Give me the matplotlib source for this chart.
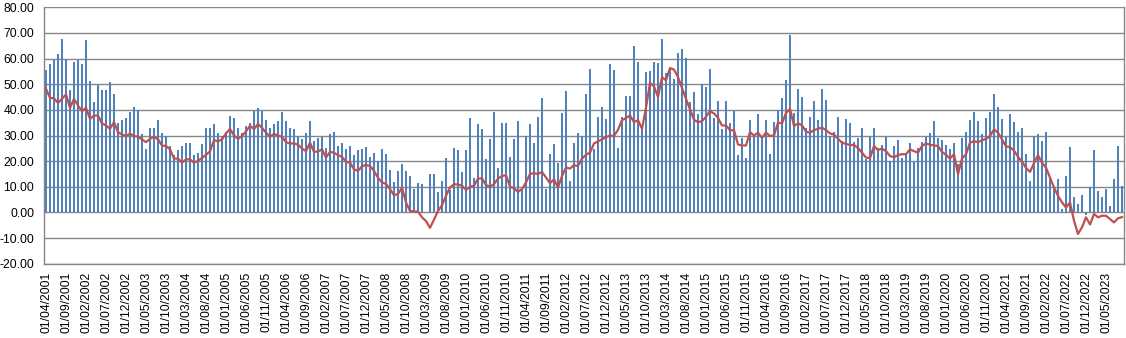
import numpy as np
import pandas as pd
import matplotlib
matplotlib.use("Agg")
import matplotlib.pyplot as plt

plt.rcParams['font.family'] = ['Liberation Sans', 'DejaVu Sans']

# monthly values, first month April 2001
start_month = "2001-04-01"

bar_values = [
    55.7, 58.0, 59.5, 61.9, 67.7, 59.9, 47.6, 58.5, 59.5, 58.0,
    67.3, 51.1, 43.2, 49.8, 47.6, 47.9, 51.0, 46.0, 34.7, 36.2,
    36.8, 39.0, 41.3, 39.9, 30.4, 24.6, 32.8, 33.1, 35.9, 30.8,
    30.0, 25.8, 22.3, 24.2, 25.8, 26.9, 26.9, 22.3, 23.0, 26.5,
    33.1, 32.8, 34.3, 30.8, 30.0, 31.2, 37.8, 37.0, 33.1, 30.8,
    33.9, 34.7, 39.4, 40.9, 39.7, 36.2, 32.8, 34.3, 35.5, 39.0,
    35.5, 32.8, 32.4, 30.0, 28.5, 30.8, 35.5, 27.7, 28.9, 29.3,
    25.0, 30.4, 31.2, 25.8, 26.9, 24.6, 25.8, 22.3, 24.2, 24.6,
    25.4, 21.5, 23.0, 20.2, 24.6, 22.7, 16.4, 11.8, 16.1, 18.8,
    16.1, 14.1, 9.1, 11.4, 11.0, 0.0, 14.9, 14.9, 7.9, 12.2,
    21.1, 8.7, 25.0, 24.2, 15.7, 24.2, 37.0, 13.3, 34.3, 32.4,
    20.7, 28.5, 39.0, 17.2, 34.7, 34.7, 21.5, 28.5, 35.5, 9.0,
    29.8, 34.3, 26.9, 37.4, 44.8, 9.1, 22.7, 26.5, 19.2, 38.6,
    47.5, 12.2, 26.9, 30.8, 29.4, 46.3, 56.1, 24.6, 37.4, 41.3,
    36.6, 58.0, 55.7, 25.0, 37.4, 45.6, 45.6, 65.0, 58.8, 33.0,
    54.9, 55.3, 58.8, 58.4, 67.7, 54.5, 56.4, 52.2, 62.3, 63.8,
    60.2, 43.2, 47.1, 38.2, 50.2, 49.1, 56.1, 37.0, 43.6, 32.4,
    43.6, 34.7, 39.7, 22.3, 28.9, 21.1, 36.2, 29.3, 38.2, 30.0,
    35.9, 22.7, 35.1, 40.1, 44.8, 51.8, 69.3, 38.6, 48.3, 45.2,
    33.1, 37.4, 43.6, 35.9, 48.3, 44.0, 29.3, 31.2, 37.4, 27.7,
    36.6, 34.7, 27.3, 28.9, 33.1, 21.0, 29.6, 33.1, 25.0, 26.1,
    29.6, 19.9, 25.8, 28.1, 21.1, 23.0, 26.9, 19.5, 25.0, 27.3,
    29.3, 30.8, 35.5, 28.9, 28.1, 26.1, 24.6, 26.9, 18.8, 28.9,
    31.2, 36.2, 39.0, 35.5, 30.4, 37.0, 39.0, 46.0, 41.3, 36.6,
    29.6, 38.2, 35.1, 31.2, 32.8, 22.7, 12.2, 29.3, 30.4, 27.7,
    31.2, 13.0, 10.0, 12.9, 1.3, 14.1, 25.4, 6.0, 3.2, 6.7,
    -1.0, 10.0, 24.2, 8.3, 6.0, 9.1, 2.5, 12.9, 25.8, 10.2,
]

line_values = [
    48.2, 44.7, 44.5, 42.7, 44.3, 46.0, 40.8, 44.3, 41.7, 39.5,
    40.8, 36.5, 37.8, 37.8, 34.7, 33.9, 32.6, 35.2, 31.3, 30.4,
    29.8, 30.7, 29.8, 29.5, 28.5, 27.4, 28.7, 29.5, 28.5, 26.1,
    25.9, 24.6, 21.0, 21.0, 19.4, 20.7, 20.7, 19.4, 20.1, 21.2,
    22.5, 23.8, 28.2, 27.7, 28.5, 30.8, 32.6, 30.0, 28.7, 29.8,
    31.6, 33.8, 32.5, 34.5, 33.0, 31.1, 29.5, 30.6, 30.0, 29.5,
    27.4, 26.9, 26.9, 26.4, 24.9, 23.9, 27.2, 23.6, 23.8, 24.6,
    21.4, 23.6, 23.3, 22.3, 21.7, 19.7, 19.4, 16.8, 16.2, 18.0,
    18.5, 18.1, 16.2, 13.5, 11.7, 11.1, 9.1, 6.7, 7.2, 9.6,
    3.9, 0.6, 0.4, 0.3, -1.9, -3.4, -6.0, -2.8, 0.6, 2.8,
    6.5, 9.7, 11.0, 10.9, 10.4, 8.8, 10.0, 10.4, 13.2, 13.3,
    10.6, 10.1, 11.0, 13.2, 14.2, 14.5, 10.1, 9.4, 8.0, 9.1,
    11.7, 15.0, 15.3, 15.0, 15.8, 13.6, 11.4, 12.9, 9.7, 14.2,
    17.5, 17.1, 18.4, 18.1, 21.0, 22.5, 23.3, 26.9, 27.7, 28.5,
    29.3, 30.0, 29.8, 32.2, 36.0, 36.8, 37.8, 35.2, 36.0, 32.6,
    40.8, 50.5, 49.2, 45.0, 52.8, 51.5, 56.3, 55.7, 52.8, 48.5,
    44.3, 40.2, 36.1, 35.2, 35.6, 37.3, 39.5, 38.6, 36.9, 33.9,
    33.9, 32.1, 32.0, 26.5, 26.1, 26.1, 31.3, 30.0, 31.1, 29.1,
    31.1, 29.8, 30.0, 35.0, 34.7, 38.8, 40.4, 33.7, 34.7, 34.0,
    31.5, 31.1, 32.1, 32.6, 33.1, 32.1, 30.8, 30.4, 28.7, 27.2,
    26.7, 26.3, 26.3, 25.1, 23.3, 21.4, 21.2, 25.9, 24.3, 24.9,
    23.9, 22.0, 21.5, 22.4, 22.7, 22.7, 24.6, 23.9, 23.3, 25.9,
    26.9, 26.4, 26.1, 25.9, 23.6, 22.5, 21.0, 22.7, 14.9, 21.0,
    22.7, 27.2, 27.8, 27.4, 28.1, 28.7, 29.8, 32.4, 31.1, 28.5,
    25.7, 25.5, 24.1, 21.7, 19.8, 17.4, 15.8, 19.2, 22.3, 19.4,
    17.5, 13.6, 9.7, 6.5, 3.9, 1.9, 3.9, -3.2, -8.4, -5.8,
    -1.9, -4.7, -0.6, -1.9, -1.3, -1.3, -2.6, -3.9, -2.3, -1.8,
]

months = pd.date_range(start_month, periods=len(bar_values), freq="MS")
month_labels = [d.strftime("%d/%m/%Y") for d in months]
label_step = 5

y_ticks = np.arange(-20, 81, 10)

fig = plt.figure(figsize=(11.26, 3.38), dpi=100)
ax = fig.add_axes([44 / 1126, 74.3 / 338, 1080 / 1126, 256.4 / 338])

x = np.arange(len(bar_values))
ax.bar(x, bar_values, width=0.68, color="#4F81BD", zorder=2)
ax.plot(x, line_values, color="#C0504D", lw=1.6, zorder=3)

ax.set_xlim(-0.5, len(bar_values) - 0.5)
ax.set_ylim(-20, 80)
ax.set_yticks(y_ticks)
ax.set_yticklabels([f"{v:.2f}" for v in y_ticks])
ax.yaxis.grid(True, color="#868686", lw=1.0, zorder=0)
ax.set_axisbelow(True)

ax.set_xticks(x[::label_step])
ax.set_xticklabels(month_labels[::label_step], rotation=90, va="top", ha="center")

ax.tick_params(axis="both", length=0, labelsize=8.7, colors="black")
ax.tick_params(axis="y", pad=7)
ax.tick_params(axis="x", pad=6)

for side in ["left", "bottom", "right"]:
    ax.spines[side].set_color("#868686")
    ax.spines[side].set_linewidth(1.0)
ax.spines["top"].set_visible(False)

fig.savefig("out.png", dpi=100)
